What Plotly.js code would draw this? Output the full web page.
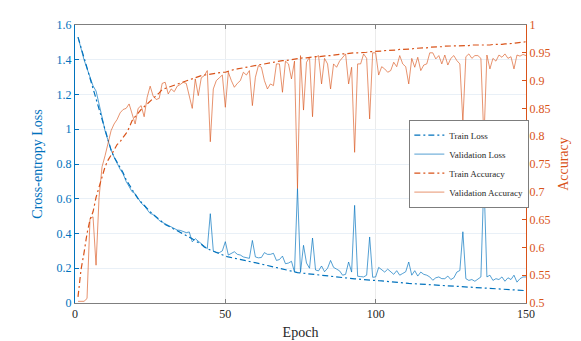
<!DOCTYPE html>
<html>
<head>
<meta charset="utf-8">
<script src="https://cdn.plot.ly/plotly-3.0.1.min.js"></script>
<style>
  html, body { margin: 0; padding: 0; background: #fff; }
  #chart { width: 581px; height: 341px; }
</style>
</head>
<body>
<div id="chart"></div>
<script>
// values, one per epoch (1..150)
var trainLoss = [
  1.53, 1.47, 1.41, 1.35, 1.29, 1.24, 1.18, 1.12, 1.06, 1.00,
  0.94, 0.88, 0.84, 0.81, 0.78, 0.75, 0.71, 0.68, 0.65, 0.625,
  0.60, 0.58, 0.565, 0.545, 0.525, 0.51, 0.495, 0.478, 0.462, 0.452,
  0.443, 0.434, 0.425, 0.418, 0.41, 0.40, 0.39, 0.38, 0.37, 0.358,
  0.348, 0.338, 0.322, 0.312, 0.305, 0.298, 0.29, 0.283, 0.277, 0.27,
  0.265, 0.262, 0.258, 0.254, 0.25, 0.247, 0.243, 0.239, 0.236, 0.232,
  0.228, 0.224, 0.22, 0.216, 0.212, 0.207, 0.203, 0.199, 0.195, 0.19,
  0.185, 0.18, 0.176, 0.175, 0.173, 0.171, 0.169, 0.167, 0.165, 0.162,
  0.159, 0.158, 0.156, 0.154, 0.153, 0.151, 0.149, 0.147, 0.145, 0.144,
  0.142, 0.141, 0.139, 0.138, 0.136, 0.135, 0.133, 0.132, 0.131, 0.13,
  0.128, 0.127, 0.125, 0.124, 0.122, 0.121, 0.119, 0.118, 0.116, 0.115,
  0.113, 0.112, 0.111, 0.109, 0.108, 0.106, 0.105, 0.103, 0.101, 0.1,
  0.1, 0.099, 0.098, 0.098, 0.097, 0.096, 0.095, 0.095, 0.094, 0.093,
  0.092, 0.091, 0.09, 0.089, 0.088, 0.087, 0.087, 0.086, 0.085, 0.084,
  0.083, 0.082, 0.081, 0.08, 0.079, 0.078, 0.076, 0.074, 0.072, 0.071
];
var valLoss = [
  1.53, 1.46, 1.40, 1.35, 1.30, 1.25, 1.22, 1.15, 1.07, 0.99,
  0.93, 0.88, 0.84, 0.80, 0.77, 0.743, 0.70, 0.67, 0.64, 0.63,
  0.60, 0.575, 0.56, 0.535, 0.515, 0.51, 0.49, 0.475, 0.465, 0.456,
  0.45, 0.437, 0.43, 0.42, 0.418, 0.41, 0.405, 0.409, 0.352, 0.37,
  0.355, 0.34, 0.325, 0.313, 0.514, 0.30, 0.292, 0.29, 0.30, 0.353,
  0.276, 0.285, 0.295, 0.28, 0.276, 0.265, 0.263, 0.257, 0.36, 0.265,
  0.26, 0.262, 0.29, 0.28, 0.28, 0.286, 0.245, 0.25, 0.27, 0.226,
  0.23, 0.24, 0.178, 0.66, 0.177, 0.332, 0.23, 0.2, 0.374, 0.19,
  0.185, 0.213, 0.18, 0.2, 0.245, 0.205, 0.195, 0.185, 0.16, 0.165,
  0.236, 0.178, 0.562, 0.154, 0.152, 0.15, 0.16, 0.38, 0.148, 0.15,
  0.205, 0.19, 0.178, 0.195, 0.18, 0.165, 0.186, 0.16, 0.17, 0.18,
  0.236, 0.16, 0.186, 0.155, 0.178, 0.165, 0.16, 0.15, 0.131, 0.145,
  0.15, 0.14, 0.14, 0.155, 0.135, 0.145, 0.178, 0.187, 0.41, 0.14,
  0.13, 0.135, 0.125, 0.14, 0.15, 0.715, 0.15, 0.16, 0.13, 0.14,
  0.135, 0.15, 0.125, 0.145, 0.135, 0.16, 0.12, 0.14, 0.15, 0.15
];
var trainAcc = [
  0.511, 0.56, 0.59, 0.625, 0.65, 0.664, 0.69, 0.71, 0.73, 0.745,
  0.757, 0.765, 0.775, 0.785, 0.79, 0.798, 0.805, 0.815, 0.828, 0.835,
  0.842, 0.848, 0.853, 0.858, 0.862, 0.867, 0.872, 0.878, 0.884, 0.886,
  0.888, 0.89, 0.892, 0.894, 0.896, 0.898, 0.9, 0.902, 0.904, 0.906,
  0.907, 0.909, 0.91, 0.911, 0.912, 0.913, 0.913, 0.914, 0.915, 0.915,
  0.917, 0.918, 0.92, 0.921, 0.922, 0.923, 0.924, 0.926, 0.927, 0.928,
  0.929, 0.93, 0.931, 0.931, 0.932, 0.933, 0.934, 0.935, 0.936, 0.936,
  0.937, 0.938, 0.939, 0.939, 0.94, 0.941, 0.941, 0.942, 0.942, 0.943,
  0.943, 0.944, 0.944, 0.945, 0.945, 0.946, 0.946, 0.947, 0.948, 0.948,
  0.949, 0.949, 0.95, 0.95, 0.95, 0.951, 0.951, 0.952, 0.952, 0.953,
  0.953, 0.953, 0.954, 0.954, 0.955, 0.955, 0.955, 0.956, 0.956, 0.957,
  0.957, 0.957, 0.958, 0.958, 0.958, 0.959, 0.959, 0.96, 0.96, 0.961,
  0.961, 0.961, 0.962, 0.962, 0.962, 0.962, 0.963, 0.963, 0.962, 0.963,
  0.963, 0.964, 0.964, 0.963, 0.963, 0.963, 0.964, 0.964, 0.965, 0.965,
  0.964, 0.965, 0.966, 0.966, 0.967, 0.967, 0.968, 0.968, 0.969, 0.97
];
var valAcc = [
  0.503, 0.503, 0.503, 0.508, 0.652, 0.655, 0.568, 0.69, 0.745, 0.765,
  0.785, 0.81, 0.822, 0.83, 0.842, 0.848, 0.85, 0.858, 0.84, 0.822,
  0.85, 0.855, 0.835, 0.87, 0.89, 0.872, 0.866, 0.868, 0.895, 0.897,
  0.876, 0.885, 0.88, 0.89, 0.893, 0.897, 0.895, 0.87, 0.85, 0.903,
  0.873, 0.905, 0.909, 0.918, 0.79, 0.885, 0.9, 0.905, 0.91, 0.852,
  0.915, 0.9, 0.888, 0.895, 0.9, 0.915, 0.91, 0.918, 0.855, 0.906,
  0.927, 0.924, 0.9, 0.885, 0.894, 0.891, 0.93, 0.93, 0.879, 0.935,
  0.93, 0.903, 0.935, 0.706, 0.945, 0.847, 0.933, 0.942, 0.835, 0.942,
  0.945, 0.894, 0.94, 0.93, 0.885, 0.93, 0.924, 0.935, 0.942, 0.948,
  0.894, 0.924, 0.771, 0.93, 0.93, 0.948, 0.94, 0.831, 0.95, 0.95,
  0.91, 0.925, 0.921, 0.915, 0.918, 0.933, 0.925, 0.945, 0.93, 0.925,
  0.894, 0.94, 0.924, 0.942, 0.918, 0.928, 0.93, 0.95, 0.95, 0.939,
  0.945, 0.93, 0.946, 0.928, 0.94, 0.945, 0.936, 0.93, 0.826, 0.943,
  0.948, 0.94, 0.945, 0.945, 0.94, 0.793, 0.946, 0.921, 0.94, 0.935,
  0.946, 0.942, 0.948, 0.94, 0.943, 0.921, 0.946, 0.944, 0.947, 0.945
];
var epochs = trainLoss.map((v, i) => i + 1);

var blue = "#0072BD";
var orange = "#D95319";
var dashDot = "6px,3px,2px,3px";

var data = [
  {x: epochs, y: trainLoss, name: "Train Loss", type: "scatter", mode: "lines",
   line: {color: blue, width: 1.2, dash: dashDot}},
  {x: epochs, y: valLoss, name: "Validation Loss", type: "scatter", mode: "lines",
   line: {color: "rgba(0,114,189,0.75)", width: 0.9}},
  {x: epochs, y: trainAcc, name: "Train Accuracy", type: "scatter", mode: "lines", yaxis: "y2",
   line: {color: orange, width: 1.2, dash: dashDot}},
  {x: epochs, y: valAcc, name: "Validation Accuracy", type: "scatter", mode: "lines", yaxis: "y2",
   line: {color: "rgba(217,83,25,0.7)", width: 0.9}}
];

var serif = "'Liberation Serif', 'Times New Roman', Times, serif";

var layout = {
  width: 581, height: 341,
  margin: {l: 75, r: 55, t: 25, b: 38},
  paper_bgcolor: "#fff", plot_bgcolor: "#fff",
  font: {family: serif, size: 12, color: "#262626"},
  showlegend: true,
  xaxis: {
    range: [0, 150], tickvals: [0, 50, 100, 150],
    tickfont: {family: serif, size: 12, color: "#262626"},
    title: {text: "Epoch", font: {family: serif, size: 14, color: "#262626"}, standoff: 6},
    showline: true, linecolor: "#7f7f7f", linewidth: 1, mirror: "ticks",
    ticks: "inside", ticklen: 4, tickcolor: "#7f7f7f",
    showgrid: true, gridcolor: "#ebebeb", zeroline: false
  },
  yaxis: {
    range: [0, 1.6], dtick: 0.2,
    title: {text: "Cross-entropy Loss", font: {family: serif, size: 14, color: blue}, standoff: 10},
    tickfont: {family: serif, size: 12, color: blue},
    showline: true, linecolor: blue, linewidth: 1,
    ticks: "inside", ticklen: 4, tickcolor: blue,
    showgrid: true, gridcolor: "#e9f0f7", zeroline: false
  },
  yaxis2: {
    range: [0.5, 1], dtick: 0.05, overlaying: "y", side: "right",
    title: {text: "Accuracy", font: {family: serif, size: 14, color: orange}, standoff: 8},
    tickfont: {family: serif, size: 12, color: orange},
    showline: true, linecolor: orange, linewidth: 1,
    ticks: "inside", ticklen: 4, tickcolor: orange,
    showgrid: false, zeroline: false
  },
  legend: {
    x: 0.74, y: 0.5, xanchor: "left", yanchor: "middle",
    bgcolor: "#fff", bordercolor: "#262626", borderwidth: 0.6,
    font: {family: serif, size: 9, color: "#262626"}, itemwidth: 30,
    tracegroupgap: 0
  }
};

Plotly.newPlot("chart", data, layout, {displayModeBar: false, staticPlot: true});
</script>
</body>
</html>
